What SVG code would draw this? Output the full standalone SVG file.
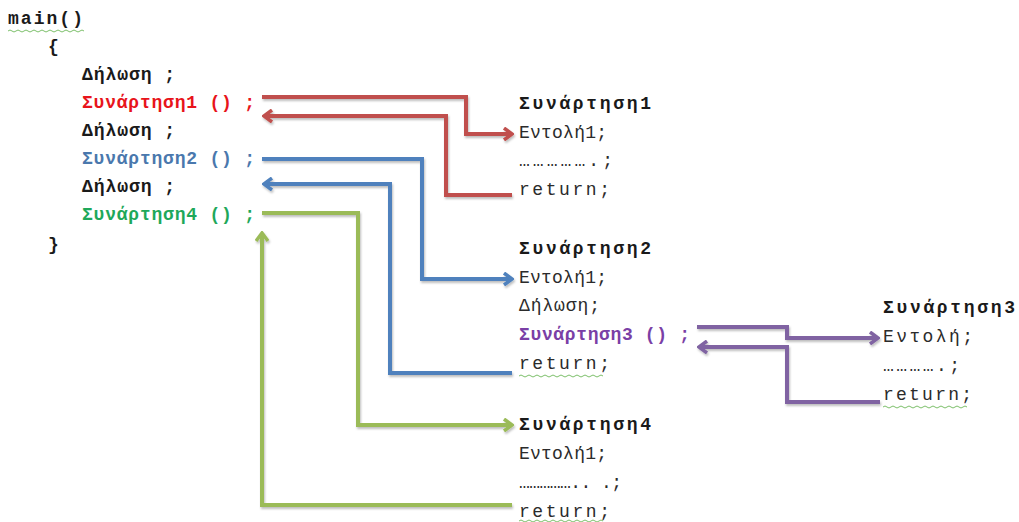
<svg xmlns="http://www.w3.org/2000/svg" width="1019" height="522" viewBox="0 0 1019 522">
<style>
text{font-family:"Liberation Mono","Courier New",monospace;font-size:18px;fill:#2b2b2b}
.b{font-weight:bold;fill:#1a1a1a}
.r{fill:#e8141b}
.bl{fill:#4a78ad}
.g{fill:#1ea85a}
.p{fill:#7a3fa6}
.ln{fill:none;stroke-width:4;stroke-linejoin:miter}
.sq{fill:none;stroke:#7cbf6a;stroke-width:1}
</style>
<defs>
<filter id="sh" x="-10%" y="-10%" width="120%" height="120%">
<feDropShadow dx="1" dy="2" stdDeviation="1.2" flood-color="#000" flood-opacity="0.25"/>
</filter>
<marker id="ar" viewBox="0 0 12 14" refX="10" refY="7" markerWidth="12" markerHeight="14" markerUnits="userSpaceOnUse" orient="auto">
<path d="M2,1 L10,7 L2,13" fill="none" stroke="context-stroke" stroke-width="3.5"/>
</marker>
<marker id="arR" viewBox="0 0 12 14" refX="10" refY="7" markerWidth="12" markerHeight="14" markerUnits="userSpaceOnUse" orient="auto"><path d="M2,1 L10,7 L2,13" fill="none" stroke="#c0504d" stroke-width="3.5"/></marker>
<marker id="arB" viewBox="0 0 12 14" refX="10" refY="7" markerWidth="12" markerHeight="14" markerUnits="userSpaceOnUse" orient="auto"><path d="M2,1 L10,7 L2,13" fill="none" stroke="#4f81bd" stroke-width="3.5"/></marker>
<marker id="arG" viewBox="0 0 12 14" refX="10" refY="7" markerWidth="12" markerHeight="14" markerUnits="userSpaceOnUse" orient="auto"><path d="M2,1 L10,7 L2,13" fill="none" stroke="#9bbb59" stroke-width="3.5"/></marker>
<marker id="arP" viewBox="0 0 12 14" refX="10" refY="7" markerWidth="12" markerHeight="14" markerUnits="userSpaceOnUse" orient="auto"><path d="M2,1 L10,7 L2,13" fill="none" stroke="#8064a2" stroke-width="3.5"/></marker>
</defs>
<rect width="1019" height="522" fill="#ffffff"/>

<g id="main">
<text class="b" x="8" y="24" textLength="75" lengthAdjust="spacing">main()</text>
<path class="sq" d="M8,31 q2,-2 4,0 t4,0 t4,0 t4,0 t4,0 t4,0 t4,0 t4,0 t4,0 t4,0 t4,0 t4,0 t4,0 t4,0 t4,0 t4,0 t4,0 t4,0 t4,0"/>
<text class="b" x="48" y="52">{</text>
<text class="b" x="82" y="80" textLength="93" lengthAdjust="spacing">Δήλωση ;</text>
<text class="b r" x="82" y="108" textLength="173" lengthAdjust="spacing">Συνάρτηση1 () ;</text>
<text class="b" x="82" y="136" textLength="93" lengthAdjust="spacing">Δήλωση ;</text>
<text class="b bl" x="82" y="164" textLength="173" lengthAdjust="spacing">Συνάρτηση2 () ;</text>
<text class="b" x="82" y="192" textLength="93" lengthAdjust="spacing">Δήλωση ;</text>
<text class="b g" x="82" y="220" textLength="173" lengthAdjust="spacing">Συνάρτηση4 () ;</text>
<text class="b" x="48" y="250">}</text>
</g>

<g id="func1">
<text class="b" x="519" y="109" textLength="132" lengthAdjust="spacing">Συνάρτηση1</text>
<text x="519" y="138" textLength="88" lengthAdjust="spacing">Εντολή1;</text>
<text x="519" y="166" textLength="94" lengthAdjust="spacing">…………….;</text>
<text x="519" y="195" textLength="91" lengthAdjust="spacing">return;</text>
</g>

<g id="func2">
<text class="b" x="519" y="254" textLength="132" lengthAdjust="spacing">Συνάρτηση2</text>
<text x="519" y="283" textLength="88" lengthAdjust="spacing">Εντολή1;</text>
<text x="519" y="311" textLength="81" lengthAdjust="spacing">Δήλωση;</text>
<text class="b p" x="519" y="340" textLength="171" lengthAdjust="spacing">Συνάρτηση3 () ;</text>
<text x="519" y="369" textLength="91" lengthAdjust="spacing">return;</text>
<path class="sq" d="M519,376 q2,-2 4,0 t4,0 t4,0 t4,0 t4,0 t4,0 t4,0 t4,0 t4,0 t4,0 t4,0 t4,0 t4,0 t4,0 t4,0 t4,0 t4,0 t4,0 t4,0 t4,0 t4,0"/>
</g>

<g id="func3">
<text class="b" x="883" y="313" textLength="132" lengthAdjust="spacing">Συνάρτηση3</text>
<text x="883" y="342" textLength="90" lengthAdjust="spacing">Εντολή;</text>
<text x="883" y="371" textLength="77" lengthAdjust="spacing">………….;</text>
<text x="883" y="400" textLength="89" lengthAdjust="spacing">return;</text>
<path class="sq" d="M883,407 q2,-2 4,0 t4,0 t4,0 t4,0 t4,0 t4,0 t4,0 t4,0 t4,0 t4,0 t4,0 t4,0 t4,0 t4,0 t4,0 t4,0 t4,0 t4,0 t4,0 t4,0 t4,0"/>
</g>

<g id="func4">
<text class="b" x="519" y="430" textLength="132" lengthAdjust="spacing">Συνάρτηση4</text>
<text x="519" y="459" textLength="88" lengthAdjust="spacing">Εντολή1;</text>
<text x="519" y="488" textLength="103" lengthAdjust="spacing">…………….. .;</text>
<text x="519" y="517" textLength="91" lengthAdjust="spacing">return;</text>
<path class="sq" d="M519,521 q2,-2 4,0 t4,0 t4,0 t4,0 t4,0 t4,0 t4,0 t4,0 t4,0 t4,0 t4,0 t4,0 t4,0 t4,0 t4,0 t4,0 t4,0 t4,0 t4,0 t4,0 t4,0"/>
</g>

<g id="connectors" filter="url(#sh)">
<path class="ln" stroke="#c0504d" d="M262,97 H466 V134 H512" marker-end="url(#arR)"/>
<path class="ln" stroke="#c0504d" d="M512,195 H446 V116 H264" marker-end="url(#arR)"/>
<path class="ln" stroke="#4f81bd" d="M262,159 H422 V279 H512" marker-end="url(#arB)"/>
<path class="ln" stroke="#4f81bd" d="M512,373 H390 V184 H264" marker-end="url(#arB)"/>
<path class="ln" stroke="#9bbb59" d="M262,213 H358 V425 H512" marker-end="url(#arG)"/>
<path class="ln" stroke="#9bbb59" d="M512,505 H262 V233" marker-end="url(#arG)"/>
<path class="ln" stroke="#8064a2" d="M697,327 H787 V338 H878" marker-end="url(#arP)"/>
<path class="ln" stroke="#8064a2" d="M880,402 H787 V347 H699" marker-end="url(#arP)"/>
</g>
</svg>
